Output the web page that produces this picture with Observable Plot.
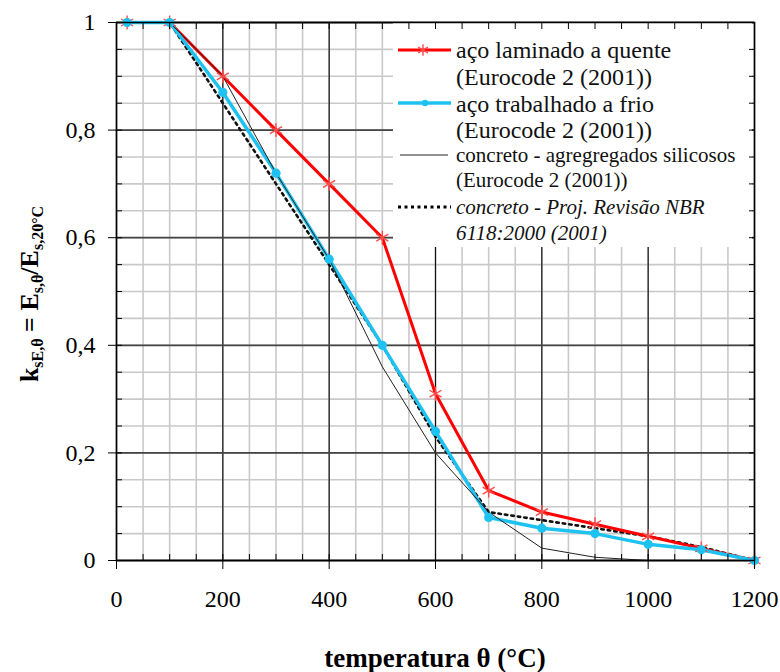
<!DOCTYPE html>
<html>
<head>
<meta charset="utf-8">
<script src="https://cdn.jsdelivr.net/npm/d3@7"></script>
<script src="https://cdn.jsdelivr.net/npm/@observablehq/plot@0.6"></script>
<style>
  html, body { margin: 0; padding: 0; background: white; }
  #chart { width: 780px; height: 672px; }
</style>
</head>
<body>
<div id="chart"></div>
<script>
// ---- data ----
const temperatures = [20, 100, 200, 300, 400, 500, 600, 700, 800, 900, 1000, 1100, 1200];
const acoLaminado   = [1, 1, 0.90, 0.80, 0.70, 0.60, 0.31, 0.13, 0.09, 0.0675, 0.045, 0.0225, 0];
const acoTrabalhado = [1, 1, 0.87, 0.72, 0.56, 0.40, 0.24, 0.08, 0.06, 0.05, 0.03, 0.02, 0];
const concretoSilicoso = [1, 1, 0.90, 0.72, 0.56, 0.36, 0.20, 0.09, 0.023, 0.006, 0, 0, 0];
const concretoNBR   = [1, 1, 0.85, 0.70, 0.55, 0.40, 0.23, 0.09, 0.075, 0.06, 0.045, 0.025, 0];

const majorX = [0, 200, 400, 600, 800, 1000, 1200];
const minorX = [0, 50, 100, 150, 200, 250, 300, 350, 400, 450, 500, 550, 600, 650, 700, 750, 800, 850, 900, 950, 1000, 1050, 1100, 1150, 1200];
const majorY = [0, 0.2, 0.4, 0.6, 0.8, 1];
const minorY = [0, 0.05, 0.1, 0.15, 0.2, 0.25, 0.3, 0.35, 0.4, 0.45, 0.5, 0.55, 0.6, 0.65, 0.7, 0.75, 0.8, 0.85, 0.9, 0.95, 1];

const legendLabels = {
  laminado: ["aço laminado a quente", "(Eurocode 2 (2001))"],
  trabalhado: ["aço trabalhado a frio", "(Eurocode 2 (2001))"],
  silicoso: ["concreto - agregregados silicosos", "(Eurocode 2 (2001))"],
  nbr: ["concreto - Proj. Revisão NBR", "6118:2000 (2001)"]
};

const rows = (vals) => temperatures.map((t, i) => ({t, v: vals[i]}));
const dLam = rows(acoLaminado), dTrab = rows(acoTrabalhado), dSil = rows(concretoSilicoso), dNbr = rows(concretoNBR);

const RED = "#ff0000", RED_MARK = "#ff4a4a", CYAN = "#1ec2f0";
const FONT = "'Liberation Serif', 'Times New Roman', serif";

const fmtY = d => d === 0 ? "0" : d === 1 ? "1" : String(d).replace(".", ",");
const fmtX = d => String(d);

const chart = Plot.plot({
  width: 780,
  height: 672,
  marginLeft: 116,
  marginRight: 26,
  marginTop: 22,
  marginBottom: 112,
  x: {domain: [0, 1200], label: null},
  y: {domain: [0, 1], label: null},
  style: {fontFamily: FONT, fontSize: "24px", color: "#000", background: "white", overflow: "visible"},
  marks: [
    Plot.ruleX(minorX, {stroke: "#c9c9c9", strokeWidth: 1.6}),
    Plot.ruleY(minorY, {stroke: "#c9c9c9", strokeWidth: 1.6}),
    Plot.ruleX(majorX, {stroke: "#111", strokeWidth: 1.2}),
    Plot.ruleY(majorY, {stroke: "#444", strokeWidth: 1.8}),
    Plot.line(dNbr, {x: "t", y: "v", stroke: "#111", strokeWidth: 2.6, strokeDasharray: "2.5 4"}),
    Plot.line(dLam, {x: "t", y: "v", stroke: RED, strokeWidth: 3}),
    Plot.line(dTrab, {x: "t", y: "v", stroke: CYAN, strokeWidth: 3.5}),
    Plot.line(dSil, {x: "t", y: "v", stroke: "#222", strokeWidth: 1}),
    Plot.dot(dLam, {x: "t", y: "v", symbol: "asterisk", r: 6.6, stroke: RED_MARK, strokeWidth: 1.4}),
    Plot.dot(dTrab, {x: "t", y: "v", r: 4.6, fill: CYAN, stroke: "none"}),
    Plot.axisX({ticks: minorX, anchor: "bottom", tickSize: -6, tickFormat: () => "", label: null}),
    Plot.axisX({ticks: minorX, anchor: "top", tickSize: -6, tickFormat: () => "", label: null}),
    Plot.axisY({ticks: minorY, anchor: "left", tickSize: -6, tickFormat: () => "", label: null}),
    Plot.axisY({ticks: minorY, anchor: "right", tickSize: -6, tickFormat: () => "", label: null}),
    Plot.axisX({ticks: majorX, anchor: "bottom", tickSize: 9, tickPadding: 20, fontSize: 24, tickFormat: fmtX, label: null}),
    Plot.axisY({ticks: majorY, anchor: "left", tickSize: 8, tickPadding: 13, fontSize: 24, tickFormat: fmtY, label: null}),
    Plot.frame({stroke: "#000", strokeWidth: 1.5})
  ]
});

const svg = d3.select(chart);

// ---- legend (inside plot, white box under the ticks/frame) ----
const g = svg.append("g").attr("font-family", FONT).attr("text-anchor", "start");
g.append("rect").attr("x", 393).attr("y", 23).attr("width", 359).attr("height", 224).attr("fill", "white").attr("stroke", "none");
g.append("line").attr("x1", 398).attr("x2", 451).attr("y1", 50).attr("y2", 50).attr("stroke", RED).attr("stroke-width", 3);
g.append("path").attr("transform", "translate(423,50)").attr("d", d3.symbol(d3.symbolAsterisk, 90)()).attr("stroke", RED_MARK).attr("stroke-width", 1.4).attr("fill", "none");
g.append("line").attr("x1", 398).attr("x2", 451).attr("y1", 103).attr("y2", 103).attr("stroke", CYAN).attr("stroke-width", 3.5);
g.append("circle").attr("cx", 425).attr("cy", 103).attr("r", 3.2).attr("fill", CYAN);
g.append("line").attr("x1", 400).attr("x2", 448).attr("y1", 155).attr("y2", 155).attr("stroke", "#222").attr("stroke-width", 1);
g.append("line").attr("x1", 398).attr("x2", 451).attr("y1", 207).attr("y2", 207).attr("stroke", "#000").attr("stroke-width", 3).attr("stroke-dasharray", "3 3.5");
const txt = (s, y, size, italic) => g.append("text").attr("x", 456).attr("y", y).attr("font-size", size)
  .attr("font-style", italic ? "italic" : "normal").attr("fill", "#111").attr("text-anchor", "start").text(s);
txt(legendLabels.laminado[0], 58, 24);
txt(legendLabels.laminado[1], 85, 24);
txt(legendLabels.trabalhado[0], 112, 24);
txt(legendLabels.trabalhado[1], 138, 24);
txt(legendLabels.silicoso[0], 162, 21);
txt(legendLabels.silicoso[1], 187, 21);
txt(legendLabels.nbr[0], 214, 21, true);
txt(legendLabels.nbr[1], 240, 21, true);

// keep axis ticks and frame above the legend box
svg.selectAll('[aria-label$="axis tick"], [aria-label$="axis tick label"], [aria-label="frame"]').raise();

// x axis title
svg.append("text")
  .attr("x", 435).attr("y", 667)
  .attr("text-anchor", "middle")
  .attr("font-family", FONT).attr("font-size", 27).attr("font-weight", "bold")
  .text("temperatura θ (°C)");
// y axis title with subscripts
const yt = svg.append("text")
  .attr("transform", "translate(38,294) rotate(-90)")
  .attr("text-anchor", "middle")
  .attr("font-family", FONT).attr("font-size", 26).attr("font-weight", "bold");
yt.append("tspan").text("k");
yt.append("tspan").attr("font-size", 16).attr("dy", 5).text("sE,θ");
yt.append("tspan").attr("dy", -5).text(" = E");
yt.append("tspan").attr("font-size", 16).attr("dy", 5).text("s,θ");
yt.append("tspan").attr("dy", -5).text("/E");
yt.append("tspan").attr("font-size", 16).attr("dy", 5).text("s,20°C");

document.getElementById("chart").appendChild(chart);
</script>
</body>
</html>
